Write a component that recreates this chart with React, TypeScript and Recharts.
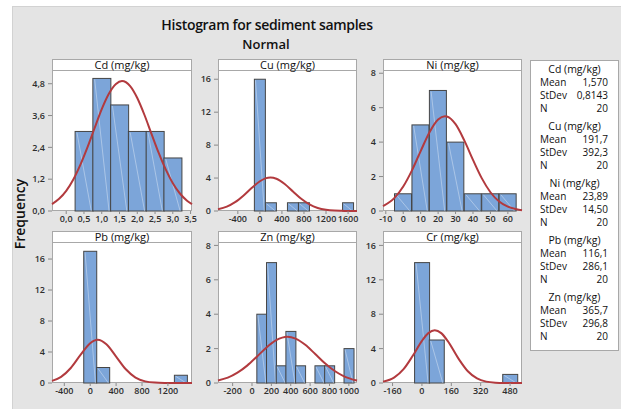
import React from 'react';
import { ComposedChart, Bar, Line, XAxis, YAxis } from 'recharts';

// histogram bins (bin midpoints + counts)
const cdMid = [0.5, 1.0, 1.5, 2.0, 2.5, 3.0];
const cdCount = [3, 5, 4, 3, 3, 2];
const cuMid = [0, 200, 400, 600, 800, 1000, 1200, 1400, 1600];
const cuCount = [16, 1, 0, 1, 1, 0, 0, 0, 1];
const niMid = [0, 10, 20, 30, 40, 50, 60];
const niCount = [1, 5, 7, 4, 1, 1, 1];
const pbMid = [0, 200, 400, 600, 800, 1000, 1200, 1400];
const pbCount = [17, 2, 0, 0, 0, 0, 0, 1];
const znMid = [100, 200, 300, 400, 500, 600, 700, 800, 900, 1000];
const znCount = [4, 7, 1, 3, 1, 0, 1, 1, 0, 2];
const crMid = [0, 80, 160, 240, 320, 400, 480];
const crCount = [14, 5, 0, 0, 0, 0, 1];

// fitted normal curves (frequency scale)
const cdCurveX = [-0.4, -0.2, 0, 0.2, 0.4, 0.6, 0.8, 1.0, 1.2, 1.4, 1.57, 1.8, 2.0, 2.2, 2.4, 2.6, 2.8, 3.0, 3.2, 3.4, 3.54];
const cdCurveY = [0.26, 0.46, 0.76, 1.19, 1.75, 2.41, 3.13, 3.84, 4.42, 4.79, 4.9, 4.71, 4.26, 3.63, 2.91, 2.2, 1.57, 1.05, 0.66, 0.39, 0.26];
const cuCurveX = [-760, -600, -450, -300, -150, 0, 100, 192, 300, 450, 600, 750, 900, 1050, 1200, 1350, 1500, 1650, 1762];
const cuCurveY = [0.22, 0.53, 1.07, 1.86, 2.79, 3.61, 3.96, 4.07, 3.92, 3.28, 2.37, 1.48, 0.8, 0.37, 0.15, 0.05, 0.02, 0.0, 0.0];
const niCurveX = [-11.6, -5, 0, 5, 10, 15, 20, 23.9, 25, 30, 35, 40, 45, 50, 55, 60, 65, 68.1];
const niCurveY = [0.28, 0.76, 1.42, 2.36, 3.48, 4.56, 5.31, 5.5, 5.49, 5.04, 4.1, 2.97, 1.91, 1.09, 0.55, 0.25, 0.1, 0.05];
const pbCurveX = [-590, -450, -300, -150, 0, 116, 250, 400, 550, 700, 850, 1000, 1150, 1300, 1450, 1572];
const pbCurveY = [0.27, 0.79, 1.94, 3.62, 5.14, 5.58, 5.0, 3.41, 1.77, 0.7, 0.21, 0.05, 0.01, 0.0, 0.0, 0.0];
const znCurveX = [-351, -250, -150, -50, 50, 150, 250, 366, 450, 550, 650, 750, 850, 950, 1084];
const znCurveY = [0.15, 0.31, 0.6, 1.01, 1.53, 2.07, 2.49, 2.69, 2.58, 2.22, 1.7, 1.16, 0.71, 0.39, 0.14];
const crCurveX = [-212, -150, -100, -50, 0, 35, 70, 105, 140, 200, 250, 300, 350, 400, 450, 545];
const crCurveY = [0.16, 0.66, 1.61, 3.16, 4.9, 5.8, 6.14, 5.8, 4.9, 2.81, 1.37, 0.53, 0.16, 0.04, 0.01, 0.0];

// legend statistics
const statNames = ['Cd (mg/kg)', 'Cu (mg/kg)', 'Ni (mg/kg)', 'Pb (mg/kg)', 'Zn (mg/kg)'];
const statMean = ['1,570', '191,7', '23,89', '116,1', '365,7'];
const statStDev = ['0,8143', '392,3', '14,50', '286,1', '296,8'];
const statN = ['20', '20', '20', '20', '20'];

const FONT = "'Open Sans', 'Noto Sans', sans-serif";
const BAR_FILL = '#7ca5d9';
const BAR_EDGE = '#454545';
const CURVE = '#b23a3e';
const FRAME = '#a8a8a8';
const PLOT_H = 140;
const PAD_TOP = 8;

const toRows = (mid: number[], count: number[]) => mid.map((x, i) => ({ x, count: count[i] }));
const toPts = (xs: number[], ys: number[]) => xs.map((x, i) => ({ x, y: ys[i] }));

const GlossBar = (props: any) => {
  const { x, y, width, height } = props;
  if (!height || height <= 0) return <g />;
  return (
    <g>
      <rect x={x} y={y} width={width} height={height} fill={BAR_FILL} stroke={BAR_EDGE} strokeWidth={1} />
      <line x1={x + width * 0.1} y1={y + 1} x2={x + width * 0.9} y2={y + height} stroke="rgba(255,255,255,0.45)" strokeWidth={0.8} />
    </g>
  );
};

type PanelProps = {
  title: string;
  bins: { x: number; count: number }[];
  curve: { x: number; y: number }[];
  xDomain: [number, number];
  yDomain: [number, number];
  xTicks: number[];
  yTicks: number[];
  comma?: boolean;
  left: number;
  top: number;
  w: number;
};

const Panel = ({ title, bins, curve, xDomain, yDomain, xTicks, yTicks, comma, left, top, w }: PanelProps) => {
  const fmt = (v: number) => (comma ? v.toFixed(1).replace('.', ',') : String(v));
  const tickStyle = { fontSize: 9, fill: '#2e2e2e', fontFamily: FONT, fontWeight: 600 };
  return (
    <>
      <div
        style={{
          position: 'absolute',
          left,
          top: top - 12,
          width: w,
          height: PLOT_H + 12,
          background: '#fff',
          border: `1px solid ${FRAME}`,
          boxSizing: 'border-box',
        }}
      >
        <div
          style={{
            height: 10,
            borderBottom: `1px solid ${FRAME}`,
            textAlign: 'center',
            fontSize: 11,
            lineHeight: '10px',
            fontFamily: FONT,
            color: '#111',
          }}
        >
          {title}
        </div>
      </div>
      <div style={{ position: 'absolute', left: left - 30, top: top - PAD_TOP }}>
        <ComposedChart
          width={30 + w + 14}
          height={PLOT_H + PAD_TOP + 20}
          data={bins}
          margin={{ top: PAD_TOP, right: 14, bottom: 0, left: 0 }}
          barCategoryGap={0}
          barGap={0}
        >
          <XAxis
            xAxisId="bins"
            dataKey="x"
            type="number"
            domain={xDomain}
            ticks={xTicks}
            interval={0}
            height={20}
            axisLine={false}
            tickLine={{ stroke: '#8a8a8a' }}
            tickSize={3}
            tickMargin={2}
            tick={tickStyle}
            tickFormatter={fmt}
          />
          <XAxis xAxisId="fit" dataKey="x" type="number" domain={xDomain} hide />
          <YAxis
            type="number"
            domain={yDomain}
            ticks={yTicks}
            interval={0}
            width={30}
            axisLine={false}
            tickLine={{ stroke: '#8a8a8a' }}
            tickSize={4}
            tickMargin={3}
            tick={tickStyle}
            tickFormatter={fmt}
          />
          <Bar xAxisId="bins" dataKey="count" shape={GlossBar} isAnimationActive={false} />
          <Line
            xAxisId="fit"
            data={curve}
            dataKey="y"
            type="monotone"
            dot={false}
            stroke={CURVE}
            strokeWidth={2}
            isAnimationActive={false}
          />
        </ComposedChart>
      </div>
    </>
  );
};

const Legend = () => (
  <div
    style={{
      position: 'absolute',
      left: 530,
      top: 60,
      width: 89,
      height: 291,
      background: '#fff',
      border: `1px solid ${FRAME}`,
      boxSizing: 'border-box',
      fontFamily: FONT,
      fontSize: 10,
      color: '#111',
      paddingTop: 2,
    }}
  >
    {statNames.map((name, i) => (
      <div key={name} style={{ height: 57 }}>
        <div style={{ textAlign: 'center', lineHeight: '13px', fontSize: 10.5 }}>{name}</div>
        {[
          ['Mean', statMean[i]],
          ['StDev', statStDev[i]],
          ['N', statN[i]],
        ].map(([k, v]) => (
          <div key={k} style={{ display: 'flex', justifyContent: 'space-between', lineHeight: '13px', padding: '0 10px 0 9px' }}>
            <span>{k}</span>
            <span>{v}</span>
          </div>
        ))}
      </div>
    ))}
  </div>
);

const App = () => {
  const top1 = 71;
  const top2 = 243;
  return (
    <div style={{ position: 'absolute', left: 0, top: 0, width: 621, height: 409, background: '#fff', overflow: 'hidden' }}>
      <div
        style={{
          position: 'absolute',
          left: 12,
          top: 6,
          width: 609,
          height: 403,
          background: '#e4e4e4',
          borderTop: '1px solid #d2d2d2',
          borderLeft: '1px solid #d2d2d2',
        }}
      />
      <div style={{ position: 'absolute', left: 0, width: 534, top: 15, textAlign: 'center', fontFamily: FONT, fontSize: 14, fontWeight: 600, letterSpacing: -0.3, color: '#111' }}>
        Histogram for sediment samples
      </div>
      <div style={{ position: 'absolute', left: 0, width: 532, top: 35, textAlign: 'center', fontFamily: FONT, fontSize: 13, fontWeight: 600, color: '#111' }}>
        Normal
      </div>
      <div
        style={{
          position: 'absolute',
          left: 19,
          top: 214,
          transform: 'translate(-50%, -50%) rotate(-90deg)',
          fontFamily: FONT,
          fontSize: 14,
          fontWeight: 600,
          color: '#111',
        }}
      >
        Frequency
      </div>

      <Panel title="Cd (mg/kg)" bins={toRows(cdMid, cdCount)} curve={toPts(cdCurveX, cdCurveY)} xDomain={[-0.4, 3.54]} yDomain={[0, 5.28]} xTicks={[0, 0.5, 1, 1.5, 2, 2.5, 3, 3.5]} yTicks={[0, 1.2, 2.4, 3.6, 4.8]} comma left={52} top={top1} w={140} />
      <Panel title="Cu (mg/kg)" bins={toRows(cuMid, cuCount)} curve={toPts(cuCurveX, cuCurveY)} xDomain={[-760, 1762]} yDomain={[0, 17]} xTicks={[-400, 0, 400, 800, 1200, 1600]} yTicks={[0, 4, 8, 12, 16]} left={218} top={top1} w={139} />
      <Panel title="Ni (mg/kg)" bins={toRows(niMid, niCount)} curve={toPts(niCurveX, niCurveY)} xDomain={[-11.6, 68.1]} yDomain={[0, 8.13]} xTicks={[-10, 0, 10, 20, 30, 40, 50, 60]} yTicks={[0, 2, 4, 6, 8]} left={383} top={top1} w={139} />
      <Panel title="Pb (mg/kg)" bins={toRows(pbMid, pbCount)} curve={toPts(pbCurveX, pbCurveY)} xDomain={[-590, 1572]} yDomain={[0, 18.07]} xTicks={[-400, 0, 400, 800, 1200]} yTicks={[0, 4, 8, 12, 16]} left={52} top={top2} w={140} />
      <Panel title="Zn (mg/kg)" bins={toRows(znMid, znCount)} curve={toPts(znCurveX, znCurveY)} xDomain={[-351, 1084]} yDomain={[0, 8.14]} xTicks={[-200, 0, 200, 400, 600, 800, 1000]} yTicks={[0, 2, 4, 6, 8]} left={218} top={top2} w={139} />
      <Panel title="Cr (mg/kg)" bins={toRows(crMid, crCount)} curve={toPts(crCurveX, crCurveY)} xDomain={[-212, 545]} yDomain={[0, 16.28]} xTicks={[-160, 0, 160, 320, 480]} yTicks={[0, 4, 8, 12, 16]} left={383} top={top2} w={139} />

      <Legend />
    </div>
  );
};

export default App;
